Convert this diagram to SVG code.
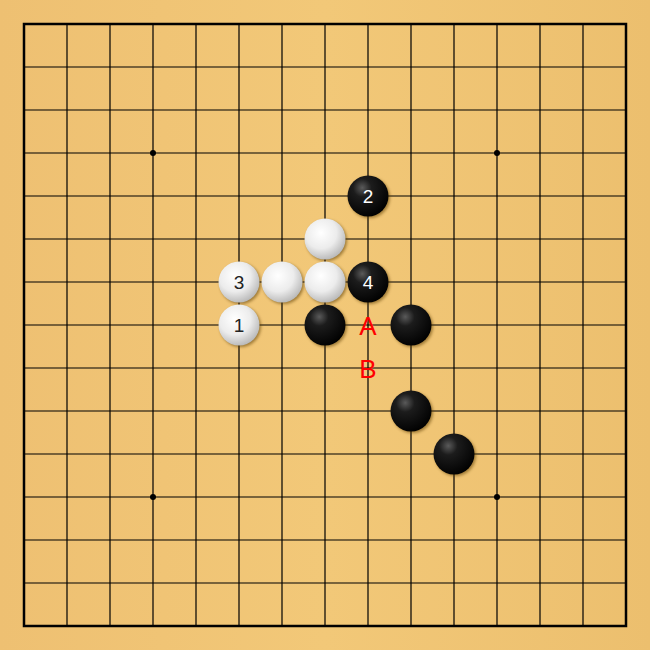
<svg xmlns="http://www.w3.org/2000/svg" width="650" height="650" viewBox="0 0 650 650">
<defs>
<radialGradient id="gb" cx="0.36" cy="0.3" r="0.75">
<stop offset="0" stop-color="#5a5a5a"/>
<stop offset="0.3" stop-color="#1c1c1c"/>
<stop offset="1" stop-color="#000"/>
</radialGradient>
<radialGradient id="gw" cx="0.4" cy="0.35" r="0.7">
<stop offset="0" stop-color="#ffffff"/>
<stop offset="0.55" stop-color="#ececec"/>
<stop offset="1" stop-color="#b4b4b4"/>
</radialGradient>
<linearGradient id="wood" x1="0" y1="0" x2="1" y2="0">
<stop offset="0" stop-color="#eec072"/>
<stop offset="0.5" stop-color="#f2c878"/>
<stop offset="1" stop-color="#ecbf6e"/>
</linearGradient>
<filter id="sh" x="-30%" y="-30%" width="160%" height="160%">
<feGaussianBlur stdDeviation="1.5"/>
</filter>
<g id="shadow"><circle r="20.5" fill="#5a3a00" opacity="0.55" filter="url(#sh)"/></g>
</defs>
<style>
.g{stroke:#000;stroke-width:1.2}
.b{fill:url(#gb)}
.w{fill:url(#gw)}
.n{font-family:"Liberation Sans",Arial,sans-serif;font-size:19px;text-anchor:middle;dominant-baseline:central}
.nb{fill:#fff}
.nw{fill:#222}
.m{font-family:"Liberation Sans",Arial,sans-serif;font-size:26px;fill:#f00;text-anchor:middle;dominant-baseline:central}
</style>
<rect width="650" height="650" fill="url(#wood)"/>
<g id="grid" class="g">
<path d="M67 24V626M110 24V626M153 24V626M196 24V626M239 24V626M282 24V626M325 24V626M368 24V626M411 24V626M454 24V626M497 24V626M540 24V626M583 24V626"/>
<path d="M24 67H626M24 110H626M24 153H626M24 196H626M24 239H626M24 282H626M24 325H626M24 368H626M24 411H626M24 454H626M24 497H626M24 540H626M24 583H626"/>
<rect x="24" y="24" width="602" height="602" fill="none" stroke-width="2.5"/>
</g>
<g id="stars" fill="#000">
<circle cx="153" cy="153" r="3"/>
<circle cx="497" cy="153" r="3"/>
<circle cx="153" cy="497" r="3"/>
<circle cx="497" cy="497" r="3"/>
</g>
<g id="shadows">
<use href="#shadow" x="369.5" y="197.5"/>
<use href="#shadow" x="326.5" y="240.5"/>
<use href="#shadow" x="240.5" y="283.5"/>
<use href="#shadow" x="283.5" y="283.5"/>
<use href="#shadow" x="326.5" y="283.5"/>
<use href="#shadow" x="369.5" y="283.5"/>
<use href="#shadow" x="240.5" y="326.5"/>
<use href="#shadow" x="326.5" y="326.5"/>
<use href="#shadow" x="412.5" y="326.5"/>
<use href="#shadow" x="412.5" y="412.5"/>
<use href="#shadow" x="455.5" y="455.5"/>
</g>
<g id="stones">
<g id="b2"><circle cx="368" cy="196" r="20.5" class="b"/><text x="368" y="196" class="n nb">2</text></g>
<g id="w1"><circle cx="325" cy="239" r="20.5" class="w"/></g>
<g id="w3"><circle cx="239" cy="282" r="20.5" class="w"/><text x="239" y="282" class="n nw">3</text></g>
<g id="w2"><circle cx="282" cy="282" r="20.5" class="w"/></g>
<g id="w4"><circle cx="325" cy="282" r="20.5" class="w"/></g>
<g id="b4"><circle cx="368" cy="282" r="20.5" class="b"/><text x="368" y="282" class="n nb">4</text></g>
<g id="w5"><circle cx="239" cy="325" r="20.5" class="w"/><text x="239" y="325" class="n nw">1</text></g>
<g id="b5"><circle cx="325" cy="325" r="20.5" class="b"/></g>
<g id="b6"><circle cx="411" cy="325" r="20.5" class="b"/></g>
<g id="b7"><circle cx="411" cy="411" r="20.5" class="b"/></g>
<g id="b8"><circle cx="454" cy="454" r="20.5" class="b"/></g>
</g>
<g id="marks">
<text x="368" y="326" class="m">A</text>
<text x="368" y="369" class="m">B</text>
</g>
</svg>
